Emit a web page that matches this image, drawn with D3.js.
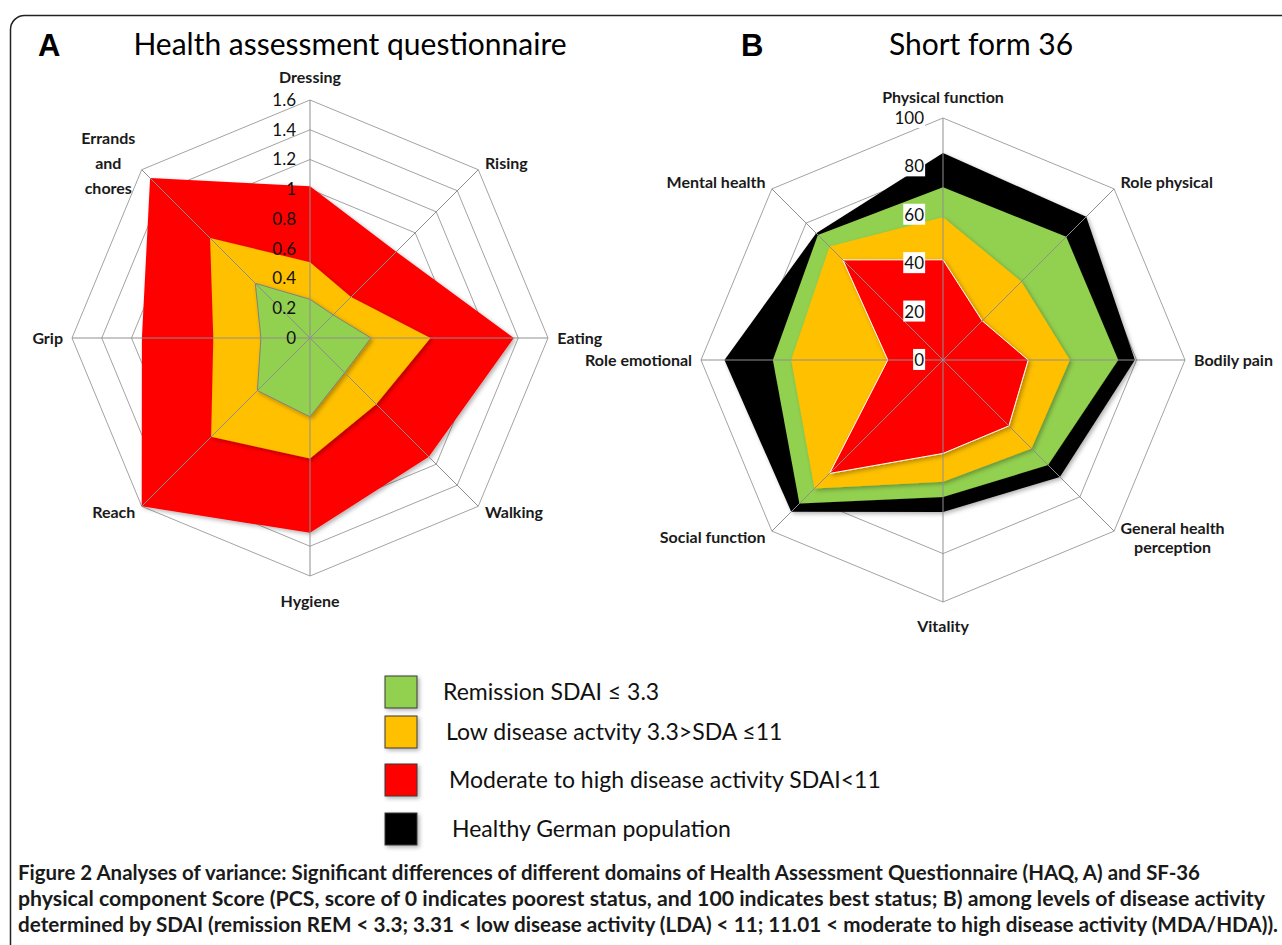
<!DOCTYPE html>
<html>
<head>
<meta charset="utf-8">
<script src="https://cdn.jsdelivr.net/npm/d3@7"></script>
<style>
  body { margin: 0; background: #fff; }
  svg { display: block; }
</style>
</head>
<body>
<div id="chart"></div>
<script>
// ---- data ----
var haqAxes = ['Dressing', 'Rising', 'Eating', 'Walking', 'Hygiene', 'Reach', 'Grip', 'Errands\nand\nchores'];
var haqTicks = [0, 0.2, 0.4, 0.6, 0.8, 1, 1.2, 1.4, 1.6];
var haqModerate = [1.02, 0.82, 1.37, 1.13, 1.31, 1.60, 1.13, 1.52];
var haqLow = [0.51, 0.39, 0.81, 0.63, 0.81, 0.94, 0.65, 0.95];
var haqRemission = [0.26, 0.22, 0.41, 0.33, 0.53, 0.50, 0.33, 0.52];

var sfAxes = ['Physical  function', 'Role physical', 'Bodily pain', 'General health\nperception', 'Vitality', 'Social function', 'Role emotional', 'Mental health'];
var sfTicks = [0, 20, 40, 60, 80, 100];
var sfHealthy = [85.5, 83.7, 79.3, 68.3, 62.8, 88.7, 90.3, 74.1];
var sfRemission = [71.4, 72.0, 72.4, 61.4, 56.6, 83.9, 70.3, 73.1];
var sfLow = [59.0, 45.8, 52.4, 51.7, 50.3, 75.1, 62.7, 66.3];
var sfModerate = [41.4, 22.9, 35.2, 38.5, 38.6, 66.3, 22.8, 58.5];

var legendLabels = ['Remission SDAI \u2264 3.3', 'Low disease actvity 3.3>SDA \u226411', 'Moderate to high disease activity SDAI<11', 'Healthy German  population'];

var captionLines = [
  ['Figure 2', ' Analyses of variance: Significant differences of different domains of Health Assessment Questionnaire (HAQ, A) and SF-36'],
  ['', 'physical component Score (PCS, score of 0 indicates poorest status, and 100 indicates best status; B) among levels of disease activity'],
  ['', 'determined by SDAI (remission REM < 3.3; 3.31 < low disease activity (LDA) < 11; 11.01 < moderate to high disease activity (MDA/HDA)).']
];

// ---- styles ----
var GREEN = '#92d050', YELLOW = '#ffc000', RED = '#ff0000', BLACK = '#000000';
var legendColors = [GREEN, YELLOW, RED, BLACK];
var FONT = 'Lato, "Open Sans", sans-serif';

var svg = d3.select('#chart')
  .append('svg')
  .attr('width', 1282)
  .attr('height', 945);

var defs = svg.append('defs');
defs.append('filter')
  .attr('id', 'shadow')
  .attr('x', '-10%').attr('y', '-10%').attr('width', '130%').attr('height', '130%')
  .append('feDropShadow')
  .attr('dx', 2).attr('dy', 2)
  .attr('stdDeviation', 2)
  .attr('flood-color', '#000')
  .attr('flood-opacity', 0.3);

// frame
svg.append('rect')
  .attr('x', 10.5).attr('y', 15.5)
  .attr('width', 1320).attr('height', 980)
  .attr('rx', 14)
  .attr('fill', 'none')
  .attr('stroke', '#222')
  .attr('stroke-width', 1.5);

function radar(opts) {
  var g = svg.append('g').attr('transform', 'translate(' + opts.cx + ',' + opts.cy + ')');
  var n = opts.axes.length;
  var r = d3.scaleLinear().domain([0, opts.max]).range([0, opts.radius]);
  var ang = d3.scaleLinear().domain([0, n]).range([0, 2 * Math.PI]);
  var pt = function (v, i) { return [r(v) * Math.sin(ang(i)), -r(v) * Math.cos(ang(i))]; };
  var closed = d3.line().curve(d3.curveLinearClosed);

  // rings
  g.append('g')
    .selectAll('path')
    .data(opts.ticks.slice(1))
    .enter()
    .append('path')
    .attr('d', function (t) { return closed(d3.range(n).map(function (i) { return pt(t, i); })); })
    .attr('fill', 'none')
    .attr('stroke', '#a3a3a3')
    .attr('stroke-width', 1);

  // series
  g.append('g')
    .selectAll('path')
    .data(opts.series)
    .enter()
    .append('path')
    .attr('d', function (s) { return closed(s.values.map(pt)); })
    .attr('fill', function (s) { return s.color; })
    .attr('stroke', function (s) { return s.stroke || 'none'; })
    .attr('stroke-width', 1)
    .attr('filter', 'url(#shadow)');

  // spokes
  g.append('g')
    .selectAll('line')
    .data(d3.range(n))
    .enter()
    .append('line')
    .attr('x1', 0).attr('y1', 0)
    .attr('x2', function (i) { return pt(opts.max, i)[0]; })
    .attr('y2', function (i) { return pt(opts.max, i)[1]; })
    .attr('stroke', '#8f8f8f')
    .attr('stroke-width', 1);

  // tick labels
  var tl = g.append('g');
  opts.ticks.forEach(function (t) {
    var y = -r(t);
    var txt = tl.append('text')
      .attr('x', opts.tickX)
      .attr('y', y)
      .attr('dy', '0.35em')
      .attr('text-anchor', 'end')
      .attr('font-family', opts.tickFont)
      .attr('font-size', opts.tickSize)
      .attr('fill', '#111')
      .text(t);
    if (opts.tickBox) {
      var bb = txt.node().getBBox();
      tl.insert('rect', function () { return txt.node(); })
        .attr('x', bb.x - 1).attr('y', bb.y)
        .attr('width', bb.width + 2).attr('height', bb.height)
        .attr('fill', '#fff');
    }
  });

  // axis labels
  var al = g.append('g');
  opts.axes.forEach(function (label, i) {
    var s = Math.sin(ang(i)), c = Math.cos(ang(i));
    var vertical = Math.abs(s) < 0.1;
    var pad = vertical ? (c > 0 ? opts.padTop : opts.padBottom) : opts.pad;
    var lx = (opts.radius + pad) * s;
    var ly = -(opts.radius + pad) * c;
    var lines = label.split('\n');
    var txt = al.append('text')
      .attr('text-anchor', 'middle')
      .attr('font-family', FONT)
      .attr('font-size', opts.labelSize)
      .attr('font-weight', 'bold')
      .attr('fill', '#1a1a1a');
    lines.forEach(function (line, k) {
      txt.append('tspan')
        .attr('x', 0)
        .attr('y', (k - (lines.length - 1) / 2) * opts.lineHeight)
        .attr('dy', '0.35em')
        .text(line);
    });
    var w = txt.node().getBBox().width;
    var ox = vertical ? lx : (s > 0 ? lx + w / 2 : lx - w / 2);
    txt.attr('transform', 'translate(' + ox + ',' + ly + ')');
  });

  return g;
}

radar({
  cx: 310, cy: 338, radius: 238, max: 1.6,
  axes: haqAxes, ticks: haqTicks,
  series: [
    { values: haqModerate, color: RED },
    { values: haqLow, color: YELLOW },
    { values: haqRemission, color: GREEN, stroke: '#808080' }
  ],
  tickX: -14, tickFont: FONT, tickSize: 17, tickBox: false,
  labelSize: 16, lineHeight: 25, pad: 9, padTop: 23, padBottom: 25
});

radar({
  cx: 943, cy: 360, radius: 242, max: 100,
  axes: sfAxes, ticks: sfTicks,
  series: [
    { values: sfHealthy, color: BLACK },
    { values: sfRemission, color: GREEN },
    { values: sfLow, color: YELLOW },
    { values: sfModerate, color: RED, stroke: '#ffffff' }
  ],
  tickX: -19, tickFont: FONT, tickSize: 17, tickBox: true,
  labelSize: 16, lineHeight: 19, pad: 9, padTop: 21, padBottom: 24
});

// titles
svg.append('text').attr('x', 38).attr('y', 56)
  .attr('font-family', 'Liberation Sans, Arial, sans-serif').attr('font-weight', 'bold')
  .attr('font-size', 31).attr('fill', '#000').text('A');
svg.append('text').attr('x', 350).attr('y', 55)
  .attr('text-anchor', 'middle')
  .attr('font-family', FONT).attr('font-size', 30).attr('fill', '#000')
  .text('Health assessment questionnaire');
svg.append('text').attr('x', 741).attr('y', 56)
  .attr('font-family', 'Liberation Sans, Arial, sans-serif').attr('font-weight', 'bold')
  .attr('font-size', 31).attr('fill', '#000').text('B');
svg.append('text').attr('x', 981).attr('y', 55)
  .attr('text-anchor', 'middle')
  .attr('font-family', FONT).attr('font-size', 30).attr('fill', '#000')
  .text('Short form 36');

// legend
var legendY = d3.scaleOrdinal().domain(legendLabels).range([692, 732, 780, 829]);
var legend = svg.append('g');
legendLabels.forEach(function (label, i) {
  var y = legendY(label);
  legend.append('rect')
    .attr('x', 385).attr('y', y - 16)
    .attr('width', 32).attr('height', 32)
    .attr('fill', legendColors[i])
    .attr('stroke', '#3a3a3a')
    .attr('stroke-width', 1)
    .attr('filter', 'url(#shadow)');
  legend.append('text')
    .attr('x', 443 + i * 3).attr('y', y)
    .attr('dy', '0.35em')
    .attr('font-family', FONT)
    .attr('font-size', 23)
    .attr('fill', '#111')
    .text(label);
});

// caption
var capEnds = [1200, 1265, 1278];
captionLines.forEach(function (parts, i) {
  var t = svg.append('text')
    .attr('x', 18).attr('y', 880 + i * 26)
    .attr('font-family', FONT)
    .attr('font-size', 20)
    .attr('fill', '#1a1a1a')
    .attr('textLength', capEnds[i] - 18)
    .attr('lengthAdjust', 'spacingAndGlyphs');
  if (parts[0]) t.append('tspan').attr('font-weight', 'bold').text(parts[0]);
  t.append('tspan').attr('font-weight', 'bold').text(parts[1]);
});
</script>
</body>
</html>
